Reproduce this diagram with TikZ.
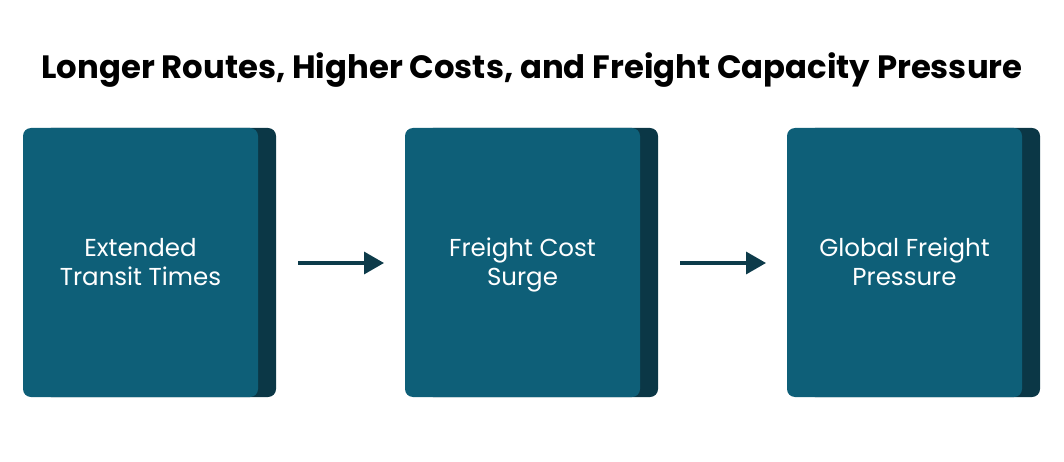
\documentclass[tikz,border=0pt]{standalone}
\usepackage{fontspec}
\setmainfont{Poppins}
\usetikzlibrary{arrows.meta}
\definecolor{boxfront}{HTML}{0E5F78}
\definecolor{boxback}{HTML}{0B3746}
\definecolor{arrowc}{HTML}{0D3B4A}
\begin{document}
\begin{tikzpicture}[x=1pt,y=-1pt,
  front/.style={fill=boxfront,rounded corners=8pt},
  back/.style={fill=boxback,rounded corners=8pt},
  lbl/.style={text=white,font=\fontsize{24.5}{29.5}\selectfont,align=center},
  flow/.style={draw=arrowc,line width=3.5pt,-{Triangle[length=20pt,width=22pt]}}]
\useasboundingbox (0,0) rectangle (1064,462);
\node[font=\fontsize{32.3}{36}\selectfont\bfseries,text=black] (title) at (532,70) {Longer Routes, Higher Costs, and Freight Capacity Pressure};
\foreach \i/\x/\ta/\tb in {1/23/Extended/Transit Times,2/405/Freight Cost/Surge,3/787/Global Freight/Pressure}{
  \fill[back] (\x+20,128) rectangle (\x+253,397);
  \fill[front] (\x,128) rectangle (\x+235,397);
  \node[lbl] (b\i) at (\x+117.5,265) {\strut\ta\\\strut\tb};
}
\coordinate (a1s) at (298,263);
\coordinate (a1e) at (384,263);
\coordinate (a2s) at (680,263);
\coordinate (a2e) at (766,263);
\draw[flow] (a1s) -- (a1e);
\draw[flow] (a2s) -- (a2e);
\end{tikzpicture}
\end{document}
